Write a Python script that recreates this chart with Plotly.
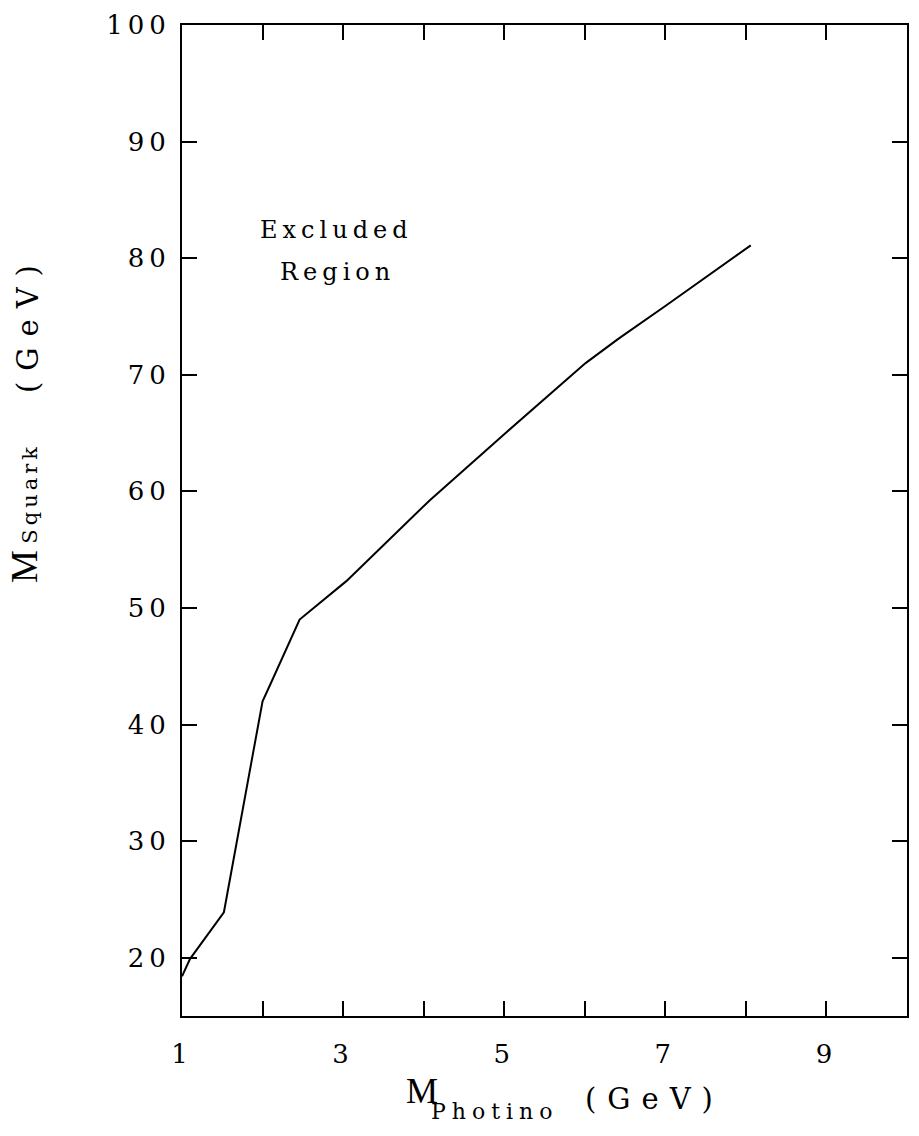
import plotly.graph_objects as go

# Data
m_photino = [1.0, 1.1, 1.52, 2.0, 2.1, 2.46, 3.04, 4.07, 5.0, 6.01, 6.42, 7.0, 8.06]
m_squark = [18.4, 19.9, 23.9, 42.0, 43.5, 49.0, 52.3, 59.2, 64.9, 71.0, 73.1, 75.9, 81.1]

x_tickvals = [1, 2, 3, 4, 5, 6, 7, 8, 9]
x_ticklabels = ["1", "", "3", "", "5", "", "7", "", "9"]
y_tickvals = [20, 30, 40, 50, 60, 70, 80, 90, 100]
y_ticklabels = ["20", "30", "40", "50", "60", "70", "80", "90", "100"]

TXT = "DejaVu Serif"
SERIF = "Liberation Serif"

W, H = 919, 1136
ML, MR, MT, MB = 182, 10, 17, 120
PW, PH = W - ML - MR, H - MT - MB


def px(x):
    return (x - ML) / PW


def py(y):
    return (H - MB - y) / PH


def spaced(s, ls=5):
    return f'<span style="letter-spacing:{ls}px">{s}</span>' if s else ""


fig = go.Figure()
fig.add_trace(go.Scatter(x=m_photino, y=m_squark, mode="lines",
                         line=dict(color="black", width=2), showlegend=False))

axis_common = dict(showline=True, linecolor="black", linewidth=2, mirror="ticks",
                   ticks="inside", ticklen=15, tickwidth=1.5, tickcolor="black",
                   showgrid=False, zeroline=False,
                   tickfont=dict(family=TXT, size=26, color="black"))

fig.update_xaxes(range=[1, 10], tickvals=x_tickvals, ticklabelstandoff=14,
                 ticktext=[spaced(t) for t in x_ticklabels], **axis_common)
fig.update_yaxes(range=[15, 100], tickvals=y_tickvals, ticklabelstandoff=4,
                 ticktext=[spaced(t) for t in y_ticklabels], **axis_common)


def note(text, x, y, size, family=TXT, angle=0):
    fig.add_annotation(xref="paper", yref="paper", x=px(x), y=py(y), showarrow=False,
                       text=text, textangle=angle, xanchor="center", yanchor="middle",
                       font=dict(family=family, size=size, color="black"))


# inside label
note(spaced("Excluded", 5), 337, 224, 24)
note(spaced("Region", 5), 338, 266, 24)

# x-axis title pieces
note("M", 423, 1092, 36, family=SERIF)
note(spaced("Photino", 6), 496, 1112, 22)
note(spaced("(GeV)", 11), 656, 1100, 29)

# y-axis title pieces (rotated)
note("M", 24, 563, 37, family=SERIF, angle=-90)
note(spaced("Squark", 4), 30, 489, 21, angle=-90)
note(spaced("(GeV)", 11), 27, 318, 29, angle=-90)

fig.update_layout(width=W, height=H, autosize=False,
                  margin=dict(l=ML, r=MR, t=MT, b=MB),
                  paper_bgcolor="white", plot_bgcolor="white")

fig.write_html("out.html")
